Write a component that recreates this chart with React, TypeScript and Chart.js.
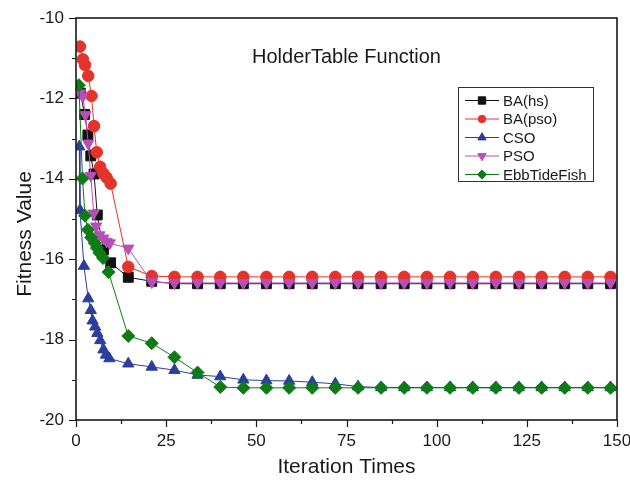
import React, { useEffect, useRef } from 'react';
import { Chart, registerables } from 'chart.js';
import { drawPoint } from 'chart.js/helpers';

Chart.register(...registerables);

// ---------- data ----------
const chartTitle = 'HolderTable Function';
const xAxisTitle = 'Iteration Times';
const yAxisTitle = 'Fitness Value';

const seriesNames = ['BA(hs)', 'BA(pso)', 'CSO', 'PSO', 'EbbTideFish'];

const xMajorTicks = [0, 25, 50, 75, 100, 125, 150];
const xMinorTicks = [12.5, 37.5, 62.5, 87.5, 112.5, 137.5];
const yMajorTicks = [-20, -18, -16, -14, -12, -10];
const yMinorTicks = [-19, -17, -15, -13, -11];

// shared iterations of the converged part of every curve
const tailIterations = [14.5, 21, 27.3, 33.7, 40, 46.4, 52.8, 59.1, 65.5, 71.9, 78.2, 84.6, 91, 97.3, 103.7, 110, 116.4, 122.8, 129.1, 135.5, 141.9, 148.2];

const baHsIterEarly = [1.2, 2.4, 3.3, 4.1, 5.0, 5.9, 7.6, 9.6];
const baHsFitEarly = [-11.87, -12.4, -12.91, -13.43, -13.88, -14.9, -15.77, -16.09];
const baHsFitTail = [-16.45, -16.55, -16.61, -16.61, -16.61, -16.61, -16.61, -16.61, -16.61, -16.61, -16.61, -16.61, -16.61, -16.61, -16.61, -16.61, -16.61, -16.61, -16.61, -16.61, -16.61, -16.61];

const baPsoIterEarly = [1.1, 1.9, 2.5, 3.4, 4.3, 5.0, 5.75, 6.7, 7.6, 8.5, 9.6];
const baPsoFitEarly = [-10.71, -11.03, -11.17, -11.44, -11.94, -12.69, -13.34, -13.7, -13.87, -13.97, -14.12];
const baPsoFitTail = [-16.19, -16.42, -16.44, -16.44, -16.44, -16.44, -16.44, -16.44, -16.44, -16.44, -16.44, -16.44, -16.44, -16.44, -16.44, -16.44, -16.44, -16.44, -16.44, -16.44, -16.44, -16.44];

const csoIterEarly = [0.9, 1.1, 2.2, 3.4, 4.1, 4.6, 5.3, 5.9, 6.7, 7.6, 8.3, 9.25];
const csoFitEarly = [-13.2, -14.78, -16.17, -16.98, -17.27, -17.53, -17.68, -17.84, -18.02, -18.25, -18.38, -18.47];
const csoFitTail = [-18.6, -18.68, -18.76, -18.88, -18.92, -19.0, -19.02, -19.03, -19.06, -19.1, -19.17, -19.19, -19.19, -19.19, -19.19, -19.19, -19.19, -19.19, -19.19, -19.19, -19.19, -19.19];

const psoIterEarly = [1.1, 1.9, 2.6, 3.4, 4.1, 4.9, 5.6, 6.5, 7.6, 8.5, 9.4];
const psoFitEarly = [-11.87, -11.95, -12.41, -13.12, -13.92, -14.86, -15.18, -15.4, -15.48, -15.56, -15.6];
const psoFitTail = [-15.73, -16.57, -16.59, -16.59, -16.59, -16.59, -16.59, -16.59, -16.59, -16.59, -16.59, -16.59, -16.59, -16.59, -16.59, -16.59, -16.59, -16.59, -16.59, -16.59, -16.59, -16.59];

const ebbIterEarly = [0.8, 1.8, 2.5, 3.3, 4.2, 5.2, 5.8, 6.5, 7.5, 9.0];
const ebbFitEarly = [-11.67, -13.99, -14.92, -15.27, -15.46, -15.6, -15.72, -15.84, -15.97, -16.32];
const ebbFitTail = [-17.91, -18.09, -18.44, -18.82, -19.18, -19.2, -19.2, -19.2, -19.2, -19.2, -19.2, -19.2, -19.2, -19.2, -19.2, -19.2, -19.2, -19.2, -19.2, -19.2, -19.2, -19.2];

// ---------- styles ----------
const FONT = '"Liberation Sans", Arial, Helvetica, sans-serif';
const TEXT = '#1a1a1a';

const seriesStyles = [
  { color: '#111111', pointStyle: 'rect', radius: 7, rotation: 0, legendRadius: 5.2 },
  { color: '#e3342b', pointStyle: 'circle', radius: 5.8, rotation: 0, legendRadius: 3.8 },
  { color: '#2c3e9c', pointStyle: 'triangle', radius: 6.5, rotation: 0, legendRadius: 4.8 },
  { color: '#b84fb8', pointStyle: 'triangle', radius: 6.5, rotation: 180, legendRadius: 4.8 },
  { color: '#0e7c16', pointStyle: 'rectRot', radius: 6.5, rotation: 0, legendRadius: 4.6 },
];

function makePoints(iterEarly: number[], fitEarly: number[], fitTail: number[]) {
  const pts = iterEarly.map((x, i) => ({ x, y: fitEarly[i] }));
  return pts.concat(tailIterations.map((x, i) => ({ x, y: fitTail[i] })));
}

const seriesPoints = [
  makePoints(baHsIterEarly, baHsFitEarly, baHsFitTail),
  makePoints(baPsoIterEarly, baPsoFitEarly, baPsoFitTail),
  makePoints(csoIterEarly, csoFitEarly, csoFitTail),
  makePoints(psoIterEarly, psoFitEarly, psoFitTail),
  makePoints(ebbIterEarly, ebbFitEarly, ebbFitTail),
];

const decorPlugin = {
  id: 'decor',
  afterDraw(chart: any) {
    const { ctx, chartArea } = chart;
    const { left, right, top, bottom } = chartArea;
    const xs = chart.scales.x;
    const ys = chart.scales.y;
    ctx.save();

    // ticks
    ctx.strokeStyle = TEXT;
    ctx.lineWidth = 1.2;
    ctx.beginPath();
    xMajorTicks.forEach((v) => {
      const px = Math.round(xs.getPixelForValue(v)) + 0.5;
      ctx.moveTo(px, bottom);
      ctx.lineTo(px, bottom + 7);
    });
    xMinorTicks.forEach((v) => {
      const px = Math.round(xs.getPixelForValue(v)) + 0.5;
      ctx.moveTo(px, bottom);
      ctx.lineTo(px, bottom + 4);
    });
    yMajorTicks.forEach((v) => {
      const py = Math.round(ys.getPixelForValue(v)) + 0.5;
      ctx.moveTo(left, py);
      ctx.lineTo(left - 7, py);
    });
    yMinorTicks.forEach((v) => {
      const py = Math.round(ys.getPixelForValue(v)) + 0.5;
      ctx.moveTo(left, py);
      ctx.lineTo(left - 4, py);
    });
    ctx.stroke();

    // frame
    ctx.lineWidth = 1.6;
    ctx.strokeStyle = '#1a1a1a';
    ctx.strokeRect(left, top, right - left, bottom - top);

    // chart title
    ctx.fillStyle = TEXT;
    ctx.textAlign = 'center';
    ctx.textBaseline = 'middle';
    ctx.font = `20px ${FONT}`;
    ctx.fillText(chartTitle, (left + right) / 2, 57);

    // axis titles
    ctx.font = `21px ${FONT}`;
    ctx.fillText(xAxisTitle, (left + right) / 2, 467);
    ctx.save();
    ctx.translate(25, 234);
    ctx.rotate(-Math.PI / 2);
    ctx.fillText(yAxisTitle, 0, 0);
    ctx.restore();

    // legend
    const boxL = 458.5, boxT = 87.5, boxW = 135, boxH = 94;
    ctx.lineWidth = 1;
    ctx.strokeStyle = '#333333';
    ctx.strokeRect(boxL, boxT, boxW, boxH);
    ctx.font = `15px ${FONT}`;
    ctx.textAlign = 'left';
    seriesNames.forEach((name, i) => {
      const st = seriesStyles[i];
      const cy = 100.5 + i * 18.5;
      ctx.strokeStyle = st.color;
      ctx.lineWidth = 1;
      ctx.beginPath();
      ctx.moveTo(465, cy);
      ctx.lineTo(499, cy);
      ctx.stroke();
      ctx.fillStyle = st.color;
      drawPoint(ctx, { pointStyle: st.pointStyle, radius: st.legendRadius, rotation: st.rotation, borderWidth: 1 } as any, 482, cy);
      ctx.fillStyle = TEXT;
      ctx.fillText(name, 503, cy + 1);
    });

    ctx.restore();
  },
};

export default function App() {
  const ref = useRef<HTMLCanvasElement | null>(null);
  useEffect(() => {
    if (!ref.current) return;
    const datasets = seriesNames.map((name, i) => {
      const st = seriesStyles[i];
      return {
        label: name,
        data: seriesPoints[i],
        borderColor: st.color,
        backgroundColor: st.color,
        borderWidth: 1,
        pointStyle: st.pointStyle,
        pointRadius: st.radius,
        pointRotation: st.rotation,
        pointBackgroundColor: st.color,
        pointBorderColor: st.color,
        pointBorderWidth: 1,
        tension: 0,
        showLine: true,
        order: seriesNames.length - i,
      };
    });
    const chart = new Chart(ref.current, {
      type: 'line',
      data: { datasets } as any,
      options: {
        animation: false,
        responsive: false,
        maintainAspectRatio: false,
        events: [],
        layout: { padding: { left: 0, right: 13, top: 18, bottom: 0 } },
        plugins: { legend: { display: false }, tooltip: { enabled: false }, title: { display: false } },
        scales: {
          x: {
            type: 'linear',
            min: 0,
            max: 150,
            grid: { display: false, drawTicks: false },
            border: { display: false },
            afterBuildTicks: (scale: any) => {
              scale.ticks = xMajorTicks.map((v) => ({ value: v }));
            },
            afterFit: (scale: any) => {
              scale.height = 64;
              scale.paddingLeft = 0;
              scale.paddingRight = 0;
            },
            ticks: {
              padding: 11,
              color: TEXT,
              font: { family: FONT, size: 17 },
              maxRotation: 0,
              autoSkip: false,
            },
          },
          y: {
            type: 'linear',
            min: -20,
            max: -10,
            grid: { display: false, drawTicks: false },
            border: { display: false },
            afterBuildTicks: (scale: any) => {
              scale.ticks = yMajorTicks.map((v) => ({ value: v }));
            },
            afterFit: (scale: any) => {
              scale.width = 76;
              scale.paddingTop = 0;
              scale.paddingBottom = 0;
            },
            ticks: {
              padding: 12,
              color: TEXT,
              font: { family: FONT, size: 17 },
              autoSkip: false,
            },
          },
        },
      } as any,
      plugins: [decorPlugin],
    });
    return () => chart.destroy();
  }, []);

  return (
    <div style={{ position: 'fixed', left: 0, top: 0, width: 630, height: 484, background: '#ffffff' }}>
      <canvas ref={ref} width={630} height={484} style={{ width: 630, height: 484, display: 'block' }} />
    </div>
  );
}
